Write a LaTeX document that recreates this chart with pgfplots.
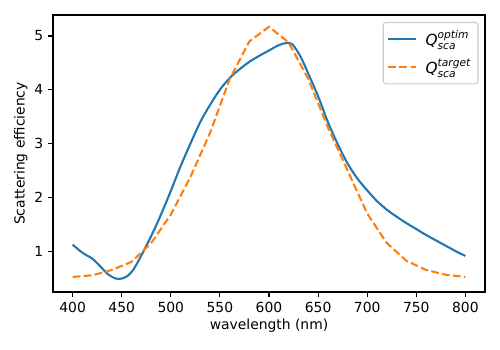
\documentclass[border=0pt]{standalone}
\usepackage{fontspec}
\setmainfont{DejaVu Sans}
\usepackage{amsmath}
\usepackage{pgfplots}
\pgfplotsset{compat=1.18}
\definecolor{C0}{HTML}{1F77B4}
\definecolor{C1}{HTML}{FF7F0E}
\begin{document}
\begin{tikzpicture}
\path[use as bounding box] (-38.16pt,-41.76pt) rectangle (321.84pt,210.24pt);
\begin{axis}[
  at={(0,0)}, anchor=south west,
  scale only axis, width=311.04pt, height=199.44pt,
  xmin=380, xmax=820, ymin=0.24, ymax=5.39,
  xtick={400,450,...,800}, ytick={1,2,3,4,5},
  tick align=outside, tick pos=lower,
  major tick length=3.5pt,
  every tick/.style={black, line width=0.8pt},
  axis line style={line width=0.8pt},
  /pgf/number format/assume math mode=true,
  ticklabel style={font=\fontsize{10}{12}\selectfont},
  label style={font=\fontsize{10}{12}\selectfont},
  xlabel={wavelength (nm)}, ylabel={Scattering efficiency},
  xlabel style={yshift=2pt},
  ylabel style={yshift=-2pt},
  legend cell align=left,
  legend style={font=\fontsize{11}{13}\selectfont, draw=black!20, rounded corners=2pt, line width=0.8pt, at={(0.985,0.975)}, anchor=north east, row sep=4pt, column sep=4pt, inner xsep=3pt, inner ysep=4pt},
  legend image code/.code={\draw[#1] (0pt,0pt) -- (20pt,0pt);},
]
\addplot[C0, line width=1.5pt, smooth, tension=0.5] coordinates {
(400,1.12) (410,0.97) (420,0.86) (428,0.72) (436,0.57) (444,0.49) (450,0.49) (456,0.54) (462,0.66) (470,0.92) (480,1.28) (490,1.68) (500,2.12)
(510,2.58) (520,3.0) (530,3.4) (540,3.72) (550,4.0) (560,4.22) (570,4.38) (580,4.52) (590,4.63) (600,4.73) (610,4.83) (618,4.87) (624,4.84)
(632,4.62) (640,4.3) (650,3.88) (660,3.4) (670,2.99) (680,2.63) (690,2.35) (700,2.13) (710,1.93) (720,1.77) (730,1.64) (740,1.52)
(750,1.41) (760,1.3) (770,1.2) (780,1.1) (790,1.0) (800,0.91)
};
\addlegendentry{\(\textit{Q}^{\textit{optim}}_{\textit{sca}}\)}
\addplot[C1, line width=1.5pt, dash pattern=on 5.55pt off 2.4pt] coordinates {
(400,0.52) (420,0.55) (440,0.65) (460,0.8) (480,1.15) (500,1.68) (520,2.38) (540,3.2) (560,4.2) (580,4.9) (600,5.17)
(620,4.88) (640,4.2) (660,3.3) (680,2.5) (700,1.7) (720,1.15) (740,0.82) (760,0.65) (780,0.56) (800,0.52)
};
\addlegendentry{\(\textit{Q}^{\textit{target}}_{\textit{sca}}\)}
\end{axis}
\end{tikzpicture}
\end{document}
